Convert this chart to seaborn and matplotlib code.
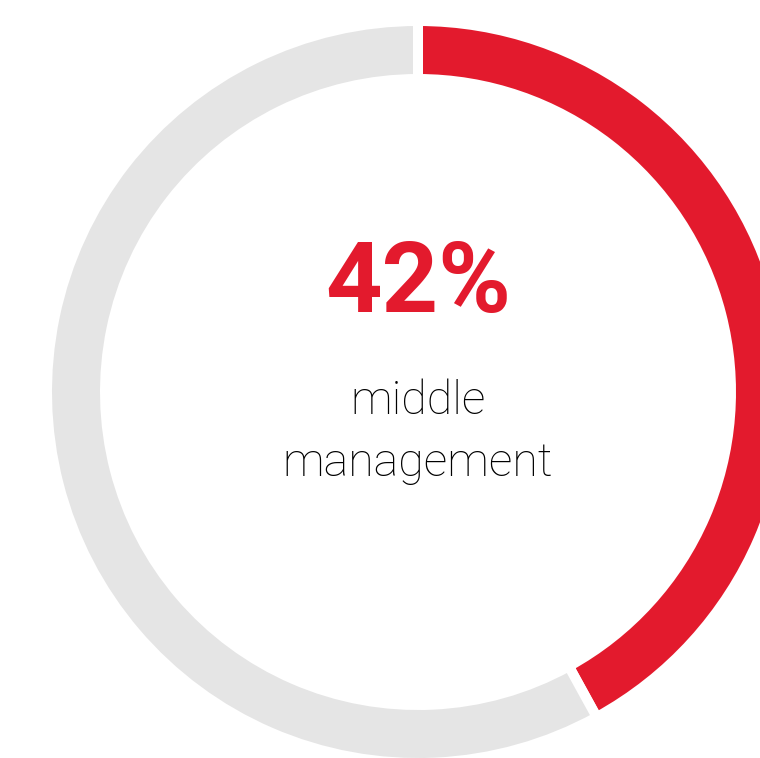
import matplotlib
matplotlib.use("Agg")
import matplotlib.pyplot as plt
import seaborn as sns

sns.set_theme(style="white")
plt.rcParams["font.family"] = ["Roboto", "DejaVu Sans"]

# Share of respondents
labels = ["middle management", "other"]
values = [42, 58]
colors = ["#E31A2D", "#E5E5E5"]
headline = "42%"
caption = "middle\nmanagement"

W, H = 760, 758
fig = plt.figure(figsize=(W / 100, H / 100), dpi=100)
ax = fig.add_axes([0, 0, 1, 1])

cx, cy = 418, H - 392
outer, ring = 371, 58
ax.pie(values, colors=colors, startangle=90, counterclock=False,
       center=(cx, cy), radius=outer,
       wedgeprops=dict(width=ring, edgecolor="white", linewidth=7.2),
       frame=True)
ax.set_xlim(0, W)
ax.set_ylim(0, H)
ax.set_aspect("equal")
ax.axis("off")

ax.text(cx, H - 312, headline, ha="center", va="baseline",
        fontsize=71, fontweight="bold", color=colors[0])
lines = caption.split("\n")
ax.text(cx, H - 414, lines[0], ha="center", va="baseline",
        fontsize=33.5, fontweight="light", color="#000000")
ax.text(cx, H - 476, lines[1], ha="center", va="baseline",
        fontsize=33.5, fontweight="light", color="#000000")

fig.savefig("out.png", dpi=100)
